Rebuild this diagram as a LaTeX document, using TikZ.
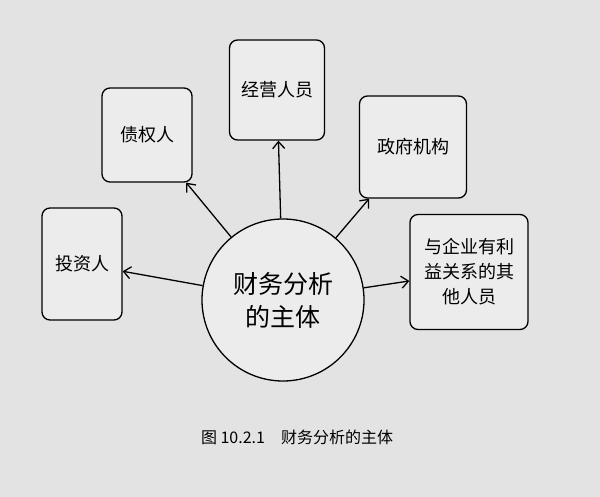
\documentclass[tikz,border=0pt]{standalone}
\usepackage{fontspec}
\setmainfont{Noto Sans CJK SC}
\usetikzlibrary{arrows.meta}
\begin{document}
\begin{tikzpicture}[x=1pt,y=-1pt,
  box/.style={draw,line width=1.3pt,rounded corners=8pt,fill=white!85!gray,align=center,font=\fontsize{18}{25}\selectfont},
  arr/.style={-{Straight Barb[length=7pt,width=12pt]},line width=1.3pt}]
\fill[gray!22] (0,0) rectangle (600,497);
\node[circle,draw,line width=1.3pt,minimum size=162pt,fill=white!85!gray,align=center,font=\fontsize{25}{33}\selectfont] (c) at (283,300) {财务分析\\的主体};
\node[box,minimum width=80pt,minimum height=112pt] (a) at (82,264) {投资人};
\node[box,minimum width=90pt,minimum height=94pt] (b) at (147,135) {债权人};
\node[box,minimum width=95pt,minimum height=100pt] (d) at (277,90) {经营人员};
\node[box,minimum width=107pt,minimum height=102pt] (e) at (413,147) {政府机构};
\node[box,minimum width=118pt,minimum height=115pt] (f) at (469,272) {与企业有利\\益关系的其\\他人员};
\draw[arr] (c) -- (a);
\draw[arr] (c) -- (b);
\draw[arr] (c) -- (d);
\draw[arr] (c) -- (e);
\draw[arr] (c) -- (f);
\node[font=\fontsize{16}{20}\selectfont] (cap) at (297,437) {图 10.2.1\quad 财务分析的主体};
\end{tikzpicture}
\end{document}
